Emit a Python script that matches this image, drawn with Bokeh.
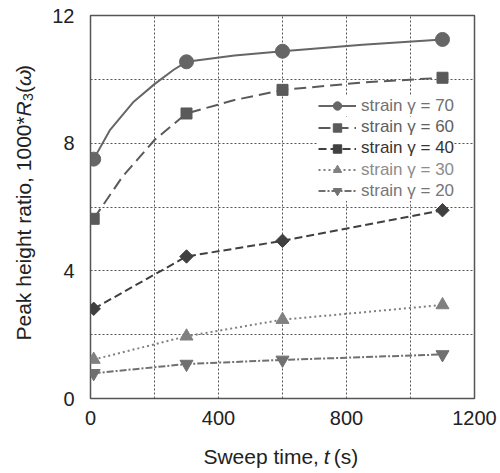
import math
from bokeh.plotting import figure
from bokeh.models import FixedTicker, Legend
from bokeh.layouts import row, column
from bokeh.core.properties import value
from bokeh.embed import file_html
from bokeh.resources import INLINE

# ---- data ----
t_pts = [10, 300, 600, 1100]
y70 = [7.5, 10.55, 10.88, 11.25]
y60 = [5.63, 8.93, 9.67, 10.05]
y40 = [2.81, 4.45, 4.94, 5.90]
y30 = [1.22, 1.95, 2.47, 2.93]
y20 = [0.79, 1.08, 1.21, 1.38]

# curve traces read along the drawn (smoothed) lines
t70_curve = [10, 60, 135, 200, 260, 300, 450, 600, 850, 1100]
y70_curve = [7.5, 8.4, 9.3, 9.85, 10.3, 10.55, 10.75, 10.88, 11.08, 11.25]
t60_curve = [10, 100, 200, 300, 450, 600, 850, 1100]
y60_curve = [5.63, 6.95, 8.1, 8.93, 9.35, 9.67, 9.9, 10.05]

x_ticks = [0, 400, 800, 1200]
y_ticks = [0, 4, 8, 12]
x_grid = [200, 400, 600, 800, 1000]
y_grid = [2, 4, 6, 8, 10]

labels = ["strain \u03b3 = 70", "strain \u03b3 = 60", "strain \u03b3 = 40",
          "strain \u03b3 = 30", "strain \u03b3 = 20"]

FONT = "Liberation Sans"
TXT = "#222222"

# ---- main plot ----
p = figure(width=455, height=432, output_backend="svg", toolbar_location=None,
           x_range=(0, 1200), y_range=(0, 12),
           min_border_left=45, min_border_right=26, min_border_top=15, min_border_bottom=34)

p.outline_line_color = "#555555"
p.outline_line_width = 1.5

for ax in (p.xaxis, p.yaxis):
    ax.axis_line_color = None
    ax.major_tick_line_color = None
    ax.minor_tick_line_color = None
    ax.major_label_text_font = FONT
    ax.major_label_text_font_size = "20px"
    ax.major_label_text_color = TXT
p.xaxis.ticker = FixedTicker(ticks=x_ticks)
p.yaxis.ticker = FixedTicker(ticks=y_ticks)
p.xaxis.major_label_standoff = 6
p.yaxis.major_label_standoff = 10

p.xgrid.ticker = FixedTicker(ticks=x_grid)
p.ygrid.ticker = FixedTicker(ticks=y_grid)
for g in (p.xgrid, p.ygrid):
    g.grid_line_color = "#555555"
    g.grid_line_dash = "2 2"
    g.grid_line_width = 1

specs = [
    (t70_curve, y70_curve, y70, "#666666", "solid", "circle", 14, 0.0, "#707070"),
    (t60_curve, y60_curve, y60, "#5a5a5a", "12 6", "square", 11, 0.0, "#606060"),
    (t_pts, y40, y40, "#404040", "8 4", "square", 9.5, math.pi / 4, "#353535"),
    (t_pts, y30, y30, "#808080", "2 3", "triangle", 13, 0.0, "#8c8c8c"),
    (t_pts, y20, y20, "#707070", "7 2 2 2", "inverted_triangle", 13, 0.0, "#767676"),
]
legends = []
for i, (tc, yc, ym, col, dash, mk, sz, ang, tcol) in enumerate(specs):
    r1 = p.line(tc, yc, line_color=col, line_width=2, line_dash=dash)
    r2 = p.scatter(t_pts, ym, marker=mk, size=sz, angle=ang,
                   fill_color=col, line_color=col)
    lg = Legend(items=[(labels[i], [r1, r2])], location=(228, 285.8 - 21.3 * i - 4))
    lg.label_text_font = FONT
    lg.label_text_font_size = "17px"
    lg.label_text_color = tcol
    lg.glyph_width = 38
    lg.glyph_height = 21
    lg.label_height = 21
    lg.spacing = 0
    lg.padding = 4
    lg.margin = 0
    lg.label_standoff = 5
    lg.border_line_color = None
    lg.background_fill_color = "white"
    lg.background_fill_alpha = 1.0
    legends.append(lg)
# add bottom row first so upper rows are painted last
for lg in reversed(legends):
    p.add_layout(lg, "center")


def strip(w, h):
    f = figure(width=w, height=h, output_backend="svg", toolbar_location=None,
               x_range=(0, w), y_range=(0, h), x_axis_type=None, y_axis_type=None,
               min_border=0, min_border_left=0, min_border_right=0,
               min_border_top=0, min_border_bottom=0)
    f.outline_line_color = None
    return f


def piece(f, x, y, text, size="21px", style="normal", angle=0.0, align="left"):
    f.text(x=[x], y=[y], text=[text], text_font=value(FONT), text_font_size=size,
           text_font_style=style, text_color=TXT, angle=angle,
           text_align=align, text_baseline="alphabetic")


# ---- y title strip: "Peak height ratio, 1000*R3(ω)" ----
ys = strip(45, 473)
a = math.pi / 2
bx, by = 23, 133
piece(ys, bx, by, "Peak height ratio, 1000*", angle=a)
piece(ys, bx, by + 224.1, "R", style="italic", angle=a)
piece(ys, bx + 4, by + 239.5, "3", size="14px", angle=a)
piece(ys, bx, by + 247.5, "(", angle=a)
piece(ys, bx, by + 254.5, "\u03c9", style="italic", angle=a)
piece(ys, bx, by + 268.5, ")", angle=a)

# ---- x title strip: "Sweep time, t (s)" ----
xs = strip(455, 41)
sx, sy = 276.5, 17      # end of "Sweep time," / baseline
piece(xs, sx - 5.8, sy, "Sweep time,", align="right")
piece(xs, sx, sy, "t", style="italic")
piece(xs, sx + 11.6, sy, "(s)")

layout = row(ys, column(p, xs, spacing=0), spacing=0)

open("out.html", "w").write(file_html(layout, INLINE))
